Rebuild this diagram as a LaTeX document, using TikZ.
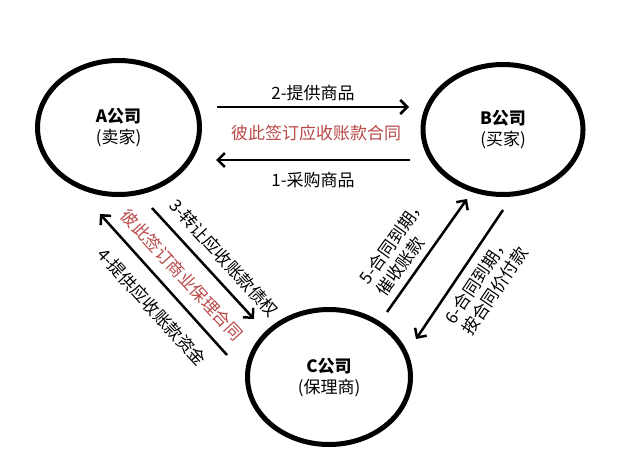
\documentclass[tikz,border=0pt]{standalone}
\usepackage{fontspec}
\setmainfont{Noto Sans CJK SC}
\usetikzlibrary{arrows.meta,shapes.geometric}
\definecolor{contractred}{RGB}{184,74,72}
\tikzset{
  party/.style={ellipse, draw, line width=5pt, inner sep=0pt, align=center,
    font=\fontsize{17}{21}\selectfont},
  flow/.style={line width=2.5pt, -{Straight Barb[length=7pt,width=14pt]}},
  lbl/.style={font=\fontsize{17}{21}\selectfont, inner sep=0pt},
  contract/.style={lbl, text=contractred},
}
\begin{document}
\begin{tikzpicture}[x=1pt,y=-1pt]
\useasboundingbox[fill=white] (0,0) rectangle (636,450);
% parties
\node[party, minimum width=162pt, minimum height=134pt] (A) at (118.5,127.5)
  {\textbf{A公司}\\(卖家)};
\node[party, minimum width=160pt, minimum height=130pt] (B) at (503,129.5)
  {\textbf{B公司}\\(买家)};
\node[party, minimum width=163pt, minimum height=135pt] (C) at (329,377)
  {\textbf{C公司}\\(保理商)};
% connector ends
\coordinate (a2s) at (217,107);  \coordinate (a2e) at (409,107);
\coordinate (a1s) at (410,160);  \coordinate (a1e) at (216,160);
\coordinate (a3s) at (152,208);  \coordinate (a3e) at (254,319);
\coordinate (a4s) at (227,355);  \coordinate (a4e) at (100,214);
\coordinate (a5s) at (387,312);  \coordinate (a5e) at (467,199);
\coordinate (a6s) at (503,210);  \coordinate (a6e) at (416,339);
% connectors
\draw[flow] (a2s) -- (a2e);
\draw[flow] (a1s) -- (a1e);
\draw[flow] (a3s) -- (a3e);
\draw[flow] (a4s) -- (a4e);
\draw[flow] (a5s) -- (a5e);
\draw[flow] (a6s) -- (a6e);
% labels
\node[lbl] (l2) at (313,93) {2-提供商品};
\node[contract] (c1) at (316,133) {彼此签订应收账款合同};
\node[lbl] (l1) at (313,180) {1-采购商品};
\node[lbl, rotate=-47.5] (l3) at (224,258) {3-转让应收账款债权};
\node[contract, rotate=-47.5] (c2) at (182,275) {彼此签订商业保理合同};
\node[lbl, rotate=-47.5] (l4) at (152,307) {4-提供应收账款资金};
\node[lbl, rotate=54.5, align=left] (l5) at (401,247) {5-合同到期，\\催收账款};
\node[lbl, rotate=56, align=left] (l6) at (486,285) {6-合同到期，\\按合同价付款};
\end{tikzpicture}
\end{document}
